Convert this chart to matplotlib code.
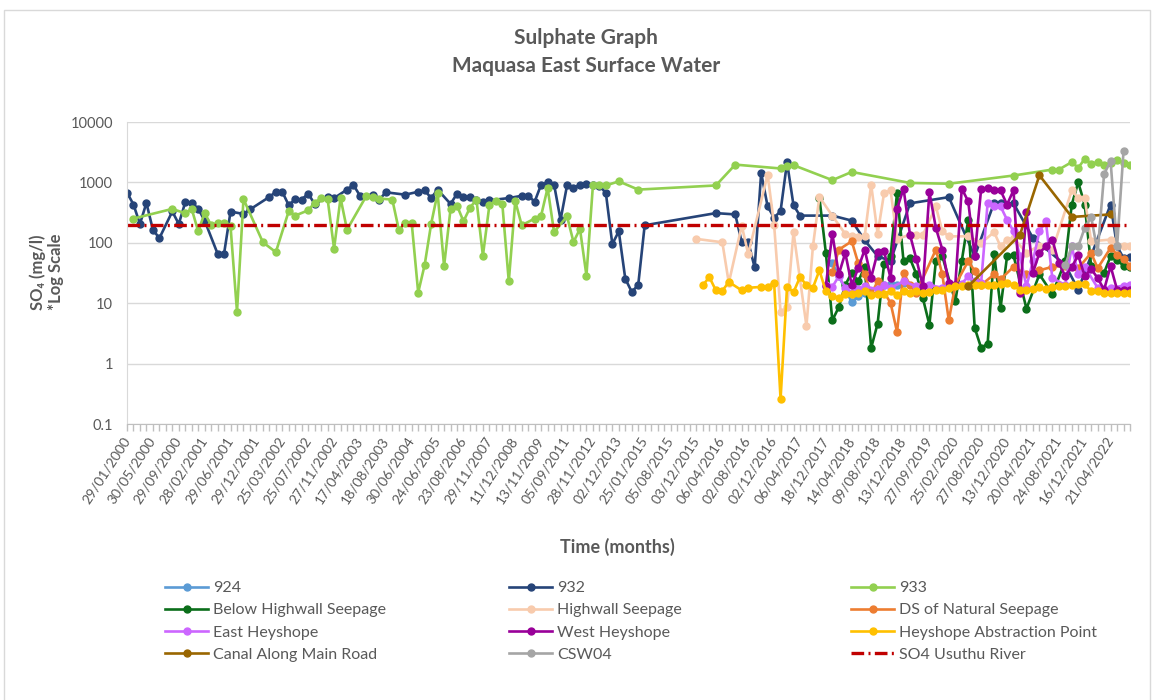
import matplotlib
matplotlib.use("Agg")
import matplotlib.pyplot as plt
from matplotlib.lines import Line2D
from matplotlib.patches import Rectangle
from matplotlib.ticker import NullLocator

plt.rcParams["font.family"] = ["Lato", "DejaVu Sans"]

W, H = 1155, 700
TXT = "#595959"

# ── Category axis: one slot per sampling date, every 4th date labelled ─────────
N_CATEGORIES = 156
LABEL_STEP = 4
date_labels = [
    "29/01/2000", "30/05/2000", "29/09/2000", "28/02/2001", "29/06/2001",
    "29/12/2001", "25/03/2002", "25/07/2002", "27/11/2002", "17/04/2003",
    "18/08/2003", "30/06/2004", "24/06/2005", "23/08/2006", "29/11/2007",
    "11/12/2008", "13/11/2009", "05/09/2011", "28/11/2012", "02/12/2013",
    "25/01/2015", "05/08/2015", "03/12/2015", "06/04/2016", "02/08/2016",
    "02/12/2016", "06/04/2017", "18/12/2017", "14/04/2018", "09/08/2018",
    "13/12/2018", "27/09/2019", "25/02/2020", "27/08/2020", "13/12/2020",
    "20/04/2021", "24/08/2021", "16/12/2021", "21/04/2022",
]

# ── SO4 (mg/l) per monitoring point: category index + value ───────────────────
s924_idx = [109, 110, 112, 113, 114, 117, 118, 119, 120]
s924_val = [46, 28, 10.4, 13, 15, 20, 21, 20, 21.7]

s932_idx = [0, 1, 2, 3, 4, 5, 7, 8, 9, 10, 11, 12, 14, 15, 16, 18, 19,
            22, 23, 24, 25, 26, 27, 28, 29, 31, 32, 34, 35, 36, 38, 39, 40,
            43, 45, 46, 47, 48, 50, 51, 52, 53, 54, 55, 56, 59,
            61, 62, 63, 64, 65, 66, 67, 68, 69, 70, 71, 72, 73, 74, 75, 76,
            77, 78, 79, 80, 91, 94, 95, 96, 97, 98, 99, 100, 101, 102, 103,
            104, 109, 112, 114, 116, 118, 121, 127, 131, 134, 135, 137, 140,
            145, 147, 152, 153, 154, 155]
s932_val = [680, 430, 205, 457, 165, 119, 330, 205, 467, 457, 368, 233, 66,
            66, 329, 300, 356, 575, 697, 697, 418, 530, 521, 650, 440, 575,
            548, 760, 905, 602, 626, 520, 686, 626, 700, 740, 550, 760, 440,
            650, 570, 575, 520, 467, 505, 550,
            600, 600, 480, 920, 1000, 920, 240, 890, 820, 910, 930, 910, 880,
            670, 95, 155, 25.5, 15.4, 20, 195, 310, 295, 102, 103, 39, 1440,
            400, 260, 335, 2150, 418, 282, 282, 233, 110, 60, 50, 450, 570,
            60, 460, 460, 450, 120, 43, 16.8, 430, 87, 56, 58]

s933_idx = [1, 7, 9, 10, 11, 12, 13, 14, 15, 16, 17, 18, 21, 23, 25, 26, 28,
            29, 30, 31, 32, 33, 34, 37, 38, 39, 41, 42, 43, 44, 45, 46, 47, 48,
            49, 50, 51, 52, 53, 54, 55, 56, 57, 58, 59, 60, 61, 63, 64, 65, 66,
            68, 69, 70, 71, 72, 73, 74, 76, 79, 91, 94, 101, 102, 103, 109,
            112, 121, 127, 137, 143, 144, 146, 147, 148, 149, 150, 151, 152,
            153, 154, 155]
s933_val = [252, 364, 308, 364, 155, 312, 195, 212, 212, 187, 7.2, 530, 102,
            70, 336, 282, 345, 460, 550, 530, 80, 550, 165, 600, 570, 540, 520,
            165, 212, 212, 15, 43, 205, 670, 41, 364, 412, 227, 380, 520, 61,
            418, 500, 440, 23, 490, 195, 252, 282, 810, 150, 275, 103, 170,
            28.7, 890, 890, 890, 1040, 760, 890, 1970, 1700, 1840, 1930, 1090,
            1490, 980, 950, 1300, 1630, 1630, 2170, 1740, 2450, 2050, 2150,
            1930, 2100, 2390, 2100, 1930]

bhs_idx = [107, 108, 109, 110, 111, 112, 113, 114, 115, 116, 117, 118, 119,
           120, 121, 122, 123, 124, 125, 126, 128, 129, 130, 131, 132, 133,
           134, 135, 136, 137, 139, 141, 143, 145, 146, 147, 148, 149, 151,
           152, 153, 154, 155]
bhs_val = [560, 68, 5.2, 8.6, 20, 32, 23, 40, 1.82, 4.6, 45, 60, 670, 50, 55,
           30, 12, 4.4, 50, 60, 10.7, 50, 240, 3.9, 1.82, 2.14, 66, 8.4, 60,
           62, 8.1, 30, 14.3, 50, 430, 1000, 430, 41, 32, 60, 51, 42, 40]

hws_idx = [88, 92, 93, 95, 96, 99, 100, 101, 102, 103, 105, 106, 107, 109,
           111, 112, 113, 114, 115, 116, 117, 118, 119, 121, 122, 123, 125,
           126, 127, 130, 132, 134, 135, 136, 137, 139, 141, 143, 146, 147,
           148, 149, 152, 154, 155]
hws_val = [116, 102, 21.7, 193, 65, 1350, 200, 7.2, 8.5, 150, 4.2, 87, 575,
           280, 140, 132, 125, 128, 920, 140, 670, 735, 116, 136, 136, 136,
           400, 155, 128, 128, 100, 150, 87, 113, 120, 68, 90, 75, 735, 550,
           550, 106, 113, 87, 87]

dsn_idx = [109, 110, 112, 113, 114, 115, 116, 118, 119, 120, 121, 122, 125,
           126, 127, 128, 130, 131, 132, 134, 135, 137, 139, 141, 143, 145,
           147, 149, 150, 152, 153, 154, 155]
dsn_val = [33, 77, 106, 46, 30, 14, 23, 10.1, 3.35, 32, 20, 15, 77, 30, 5.2,
           20, 50, 34, 20, 30, 25, 40, 30, 35, 40, 42, 38, 68, 38, 82, 64, 53,
           42]

ehs_idx = [108, 109, 110, 111, 112, 113, 114, 116, 117, 118, 120, 122, 124,
           126, 127, 129, 130, 131, 132, 133, 134, 135, 136, 137, 138, 139,
           140, 141, 142, 143, 145, 146, 147, 148, 150, 151, 152, 154, 155]
ehs_val = [20, 18.6, 28, 18, 15, 17, 19, 17, 20, 18, 23, 19, 20, 18, 19, 21,
           28, 23, 22, 460, 400, 400, 240, 155, 60, 19, 50, 155, 227, 26, 20,
           87, 30, 40, 18, 17, 18, 19.5, 20]

whs_idx = list(range(108, 156))
whs_val = [19.5, 142, 30, 68, 20, 38, 77, 26.5, 70, 72, 26, 364, 790, 136, 53,
           19, 690, 176, 77, 21.6, 20, 790, 485, 60, 790, 810, 740, 735, 430,
           740, 14.8, 320, 32, 68, 87, 113, 46, 28, 40, 62, 28, 37, 26, 16.8,
           41, 16.8, 16.8, 16.8]

hap_idx = [89, 90, 91, 92, 93, 95, 96, 98, 99, 100, 101] + list(range(102, 156))
hap_val = [20, 27, 16.3, 16, 22.5, 16.3, 18, 18.6, 18.6, 22, 0.26,
           18.6, 15.2, 27, 20, 18, 35, 15.8, 13.3, 12.2, 14.4, 14.4, 14.8,
           15.8, 13.9, 14.2, 14.4, 15.8, 13.9, 15.8, 14.8, 15.8, 14.8, 15.2,
           16.8, 16.8, 18, 19.6, 19.2, 20, 20, 20, 20, 20, 20.5, 21.7, 20,
           16.8, 16.8, 17.2, 18.6, 17.2, 18.6, 19.2, 19.6, 20, 20.5, 20.5,
           15.8, 15.8, 14.8, 14.8, 14.8, 14.8, 14.8]

canal_idx = [130, 138, 141, 146, 152]
canal_val = [19, 136, 1310, 268, 295]

csw04_idx = [145, 146, 147, 148, 149, 150, 151, 152, 153, 154]
csw04_val = [43, 87, 87, 176, 268, 70, 1380, 2250, 87, 3300]

usuthu_limit = 200

series = [
    ("924", s924_idx, s924_val, "#5B9BD5"),
    ("932", s932_idx, s932_val, "#264478"),
    ("933", s933_idx, s933_val, "#92D050"),
    ("Below Highwall Seepage", bhs_idx, bhs_val, "#0B6E1A"),
    ("Highwall Seepage", hws_idx, hws_val, "#F8CBAD"),
    ("DS of Natural Seepage", dsn_idx, dsn_val, "#ED7D31"),
    ("East Heyshope", ehs_idx, ehs_val, "#CC66FF"),
    ("West Heyshope", whs_idx, whs_val, "#990099"),
    ("Heyshope Abstraction Point", hap_idx, hap_val, "#FFC000"),
    ("Canal Along Main Road", canal_idx, canal_val, "#996600"),
    ("CSW04", csw04_idx, csw04_val, "#A5A5A5"),
]
LIMIT_COLOR = "#C00000"
LIMIT_DASH = (0, (3.8, 1.3, 0.6, 1.3))

# ── Figure ─────────────────────────────────────────────────────────────────────
fig = plt.figure(figsize=(W / 100, H / 100), dpi=100)
fig.patches.append(Rectangle((4 / W, -0.01), (1150 - 4) / W, 1.01 - 10 / H,
                             transform=fig.transFigure, fill=False,
                             edgecolor="#D9D9D9", lw=1))

ax = fig.add_axes([127 / W, 1 - 424 / H, (1130 - 127) / W, (424 - 122) / H])

handles = {}
for name, xs, ys, col in series:
    ln, = ax.plot(xs, ys, color=col, lw=1.9, marker="o", ms=5,
                  mec=col, mfc=col, solid_joinstyle="round")
    handles[name] = ln

ax.plot(range(N_CATEGORIES), [usuthu_limit] * N_CATEGORIES,
        color=LIMIT_COLOR, lw=2.4, linestyle=LIMIT_DASH)

ax.set_yscale("log")
ax.set_ylim(0.1, 10000)
ax.set_yticks([0.1, 1, 10, 100, 1000, 10000])
ax.set_yticklabels(["0.1", "1", "10", "100", "1000", "10000"])
ax.yaxis.set_minor_locator(NullLocator())
ax.grid(axis="y", color="#D9D9D9", lw=1)
ax.set_axisbelow(True)

ax.set_xlim(0, N_CATEGORIES - 1)
ax.set_xticks(range(0, N_CATEGORIES, LABEL_STEP)[:len(date_labels)])
ax.set_xticklabels(date_labels, rotation=57, ha="right", va="center",
                   rotation_mode="anchor")
ax.set_xticks(range(N_CATEGORIES), minor=True)

ax.tick_params(axis="y", length=0, pad=10, labelsize=10.5, labelcolor=TXT)
ax.tick_params(axis="x", which="both", length=5, width=1, color="#BFBFBF",
               direction="out", pad=5, labelsize=10, labelcolor=TXT)

for side in ("top", "right"):
    ax.spines[side].set_visible(False)
ax.spines["left"].set_color("#D9D9D9")
ax.spines["bottom"].set_color("#BFBFBF")

# ── Text ───────────────────────────────────────────────────────────────────────
fig.text(586 / W, 1 - 38 / H, "Sulphate Graph", ha="center", va="center",
         fontsize=15, fontweight="bold", color=TXT)
fig.text(586 / W, 1 - 66 / H, "Maquasa East Surface Water", ha="center",
         va="center", fontsize=15, fontweight="bold", color=TXT)
fig.text(38 / W, 1 - 272 / H, "SO\u2084 (mg/l)", rotation=90, ha="center",
         va="center", fontsize=12, fontweight="bold", color=TXT)
fig.text(56 / W, 1 - 272 / H, "*Log Scale", rotation=90, ha="center",
         va="center", fontsize=12, fontweight="bold", color=TXT)
fig.text(617 / W, 1 - 547 / H, "Time (months)", ha="center", va="center",
         fontsize=13, fontweight="bold", color=TXT)

# ── Legend: three columns of four ──────────────────────────────────────────────
columns = [
    (165, ["924", "Below Highwall Seepage", "East Heyshope",
           "Canal Along Main Road"]),
    (509, ["932", "Highwall Seepage", "West Heyshope", "CSW04"]),
    (851, ["933", "DS of Natural Seepage", "Heyshope Abstraction Point",
           "SO4 Usuthu River"]),
]
for x0, names in columns:
    leg_handles = []
    for n in names:
        if n == "SO4 Usuthu River":
            leg_handles.append(Line2D([], [], color=LIMIT_COLOR, lw=2.4,
                                      linestyle=LIMIT_DASH))
        else:
            col = handles[n].get_color()
            leg_handles.append(Line2D([], [], color=col, lw=1.9,
                                      marker="o", ms=5))
    leg = fig.legend(leg_handles, names, loc="upper left",
                     bbox_to_anchor=(x0 / W, 1 - 581 / H), frameon=False,
                     fontsize=11.5, handlelength=2.7, handletextpad=0.3,
                     labelspacing=0.5, borderpad=0, borderaxespad=0)
    for t in leg.get_texts():
        t.set_color(TXT)

fig.savefig("out.png", dpi=100)
